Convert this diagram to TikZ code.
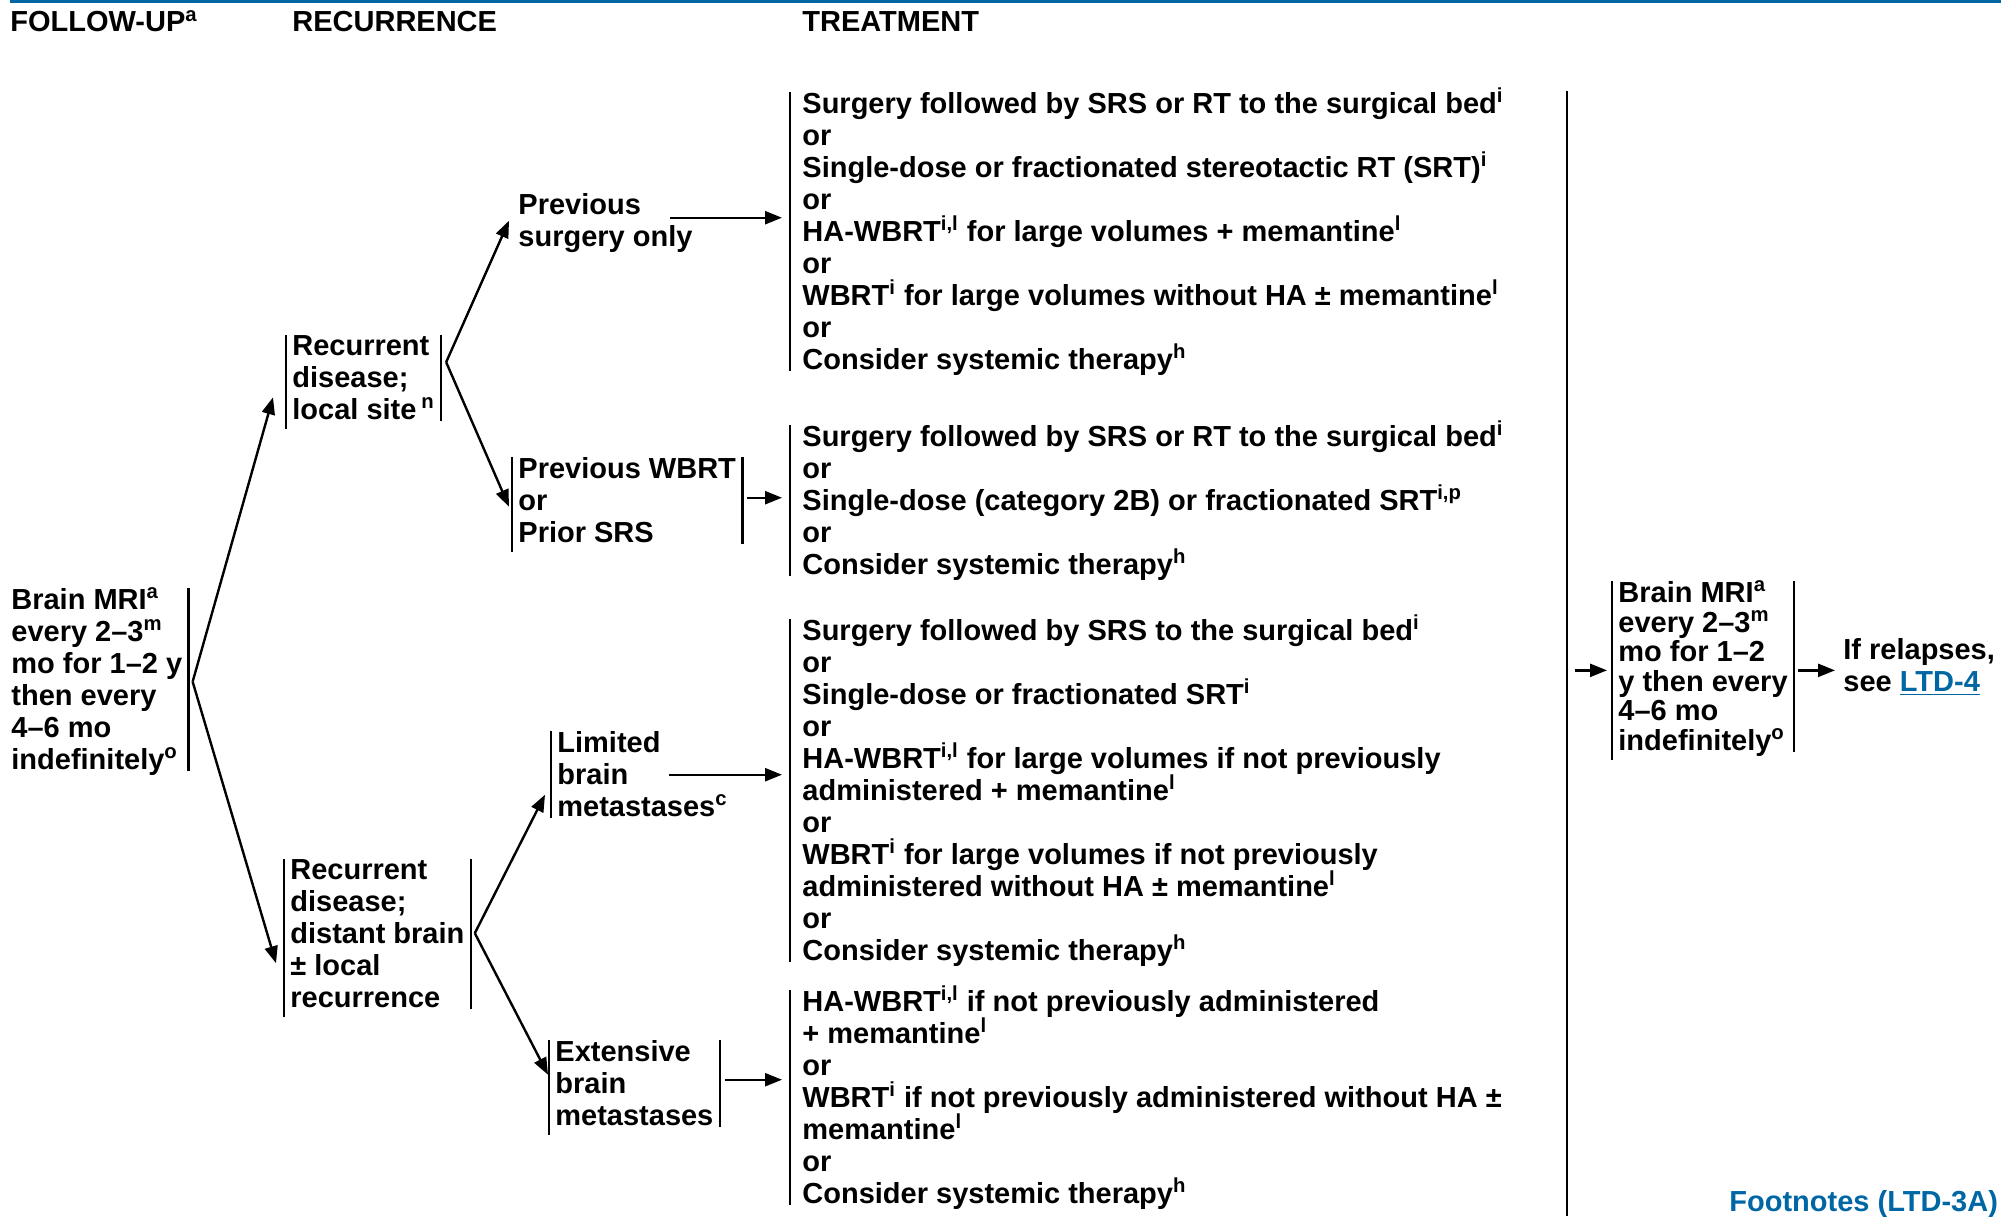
\documentclass[tikz,border=0pt]{standalone}
\usepackage{fontspec}
\setmainfont{Liberation Sans}
\usetikzlibrary{arrows.meta,calc}
\definecolor{nccnblue}{RGB}{0,103,164}
\newcommand{\sps}[1]{\smash{\textsuperscript{#1}}}

\begin{document}
\begin{tikzpicture}[x=0.5pt,y=-0.5pt,
  txt/.style={anchor=north west, align=left, inner xsep=3pt, inner ysep=0pt,
    font=\bfseries\fontsize{14.5pt}{16pt}\selectfont,
    execute at begin node=\strut, execute at end node=\strut},
  trtxt/.style={txt, inner xsep=6pt},
  bar/.style={line width=1.2pt, shorten >=4pt},
  arr/.style={line width=1.2pt, -{Triangle[length=8.5pt,width=6.5pt]}}]
  \useasboundingbox (0,0) rectangle (2011,1216);
  \draw[nccnblue, line width=1.5pt] (10,1.5) -- (2001,1.5);

  % column heads
  \node[txt] (hfu) at (4,9) {FOLLOW-UP\sps{a}};
  \node[txt] (hrec) at (286,9) {RECURRENCE};
  \node[txt] (htr) at (796,9) {TREATMENT};

  % follow-up and recurrence
  \node[txt] (fu) at (5,588) {Brain MRI\sps{a}\\every 2–3\sps{m}\\mo for 1–2 y\\then every\\4–6 mo\\indefinitely\sps{o}};
  \node[txt] (loc) at (286,335) {Recurrent\\disease;\\local site\,\sps{n}};
  \node[txt] (dis) at (284,859) {Recurrent\\disease;\\distant brain\\± local\\recurrence};
  \node[txt] (pso) at (512,193) {Previous\\surgery only};
  \node[txt] (pwb) at (512,457) {Previous WBRT\\or\\Prior SRS};
  \node[txt] (lim) at (551,731) {Limited\\brain\\metastases\sps{c}};
  \node[txt] (ext) at (549,1040) {Extensive\\brain\\metastases};

  % treatment
  \node[trtxt] (tr1) at (790,92) {Surgery followed by SRS or RT to the surgical bed\sps{i}\\or\\Single-dose or fractionated stereotactic RT (SRT)\sps{i}\\or\\HA-WBRT\sps{i,l} for large volumes + memantine\sps{l}\\or\\WBRT\sps{i} for large volumes without HA ± memantine\sps{l}\\or\\Consider systemic therapy\sps{h}};
  \node[trtxt] (tr2) at (790,425) {Surgery followed by SRS or RT to the surgical bed\sps{i}\\or\\Single-dose (category 2B) or fractionated SRT\sps{i,p}\\or\\Consider systemic therapy\sps{h}};
  \node[trtxt] (tr3) at (790,619) {Surgery followed by SRS to the surgical bed\sps{i}\\or\\Single-dose or fractionated SRT\sps{i}\\or\\HA-WBRT\sps{i,l} for large volumes if not previously\\administered + memantine\sps{l}\\or\\WBRT\sps{i} for large volumes if not previously\\administered without HA ± memantine\sps{l}\\or\\Consider systemic therapy\sps{h}};
  \node[trtxt] (tr4) at (790,990) {HA-WBRT\sps{i,l} if not previously administered\\+ memantine\sps{l}\\or\\WBRT\sps{i} if not previously administered without HA ±\\memantine\sps{l}\\or\\Consider systemic therapy\sps{h}};

  % second follow-up
  \node[txt, font=\bfseries\fontsize{14.5pt}{14.8pt}\selectfont] (mri2) at (1612,581) {Brain MRI\sps{a}\\every 2–3\sps{m}\\mo for 1–2\\y then every\\4–6 mo\\indefinitely\sps{o}};
  \node[txt] (rel) at (1837,638) {If relapses,\\see \textcolor{nccnblue}{\underline{LTD-4}}};
  \node[txt, text=nccnblue] (foot) at (1723,1189) {Footnotes (LTD-3A)};

  % bars
  \foreach \n in {loc,dis,pwb,ext,mri2}
    \draw[bar] (\n.north west) -- (\n.south west) (\n.north east) -- (\n.south east);
  \foreach \n in {tr1,tr2,tr3,tr4,lim}
    \draw[bar] (\n.north west) -- (\n.south west);
  \draw[bar] (fu.north east) -- (fu.south east);
  \coordinate (vtop) at (1567,91);
  \coordinate (vbot) at (1567,1216);
  \draw[line width=1.4pt] (vtop) -- (vbot);

  % branches
  \coordinate (fuap) at ($(fu.east)+(4,-2)$);
  \draw[arr] (fuap) -- ($(loc.south west)+(-13,-32)$);
  \draw[arr] (fuap) -- ($(dis.west)+(-8,25)$);
  \coordinate (locap) at ($(loc.east)+(5,-20)$);
  \draw[arr] (locap) -- ($(pso.west)+(-3,-4)$);
  \draw[arr] (locap) -- ($(pwb.west)+(-3,2)$);
  \coordinate (disap) at ($(dis.east)+(4,-5)$);
  \draw[arr] (disap) -- ($(lim.west)+(-6,16)$);
  \draw[arr] (disap) -- ($(ext.west)+(-1,-13)$);

  % to treatment
  \coordinate (s1) at ($(pso.west)+(158,-7)$);
  \draw[arr, shorten >=4pt] (s1) -- (s1 -| tr1.west);
  \coordinate (s2) at ($(pwb.east)+(5,-7)$);
  \draw[arr, shorten >=4pt] (s2) -- (s2 -| tr2.west);
  \coordinate (s3) at ($(lim.west)+(118,-4)$);
  \draw[arr, shorten >=4pt] (s3) -- (s3 -| tr3.west);
  \coordinate (s4) at ($(ext.east)+(5,-8)$);
  \draw[arr, shorten >=4pt] (s4) -- (s4 -| tr4.west);
  \draw[arr, shorten <=4pt, shorten >=2.5pt] (vtop |- mri2.west) -- (mri2.west);
  \draw[arr, shorten <=2pt, shorten >=1pt] (mri2.east) -- (mri2.east -| rel.west);
\end{tikzpicture}
\end{document}
